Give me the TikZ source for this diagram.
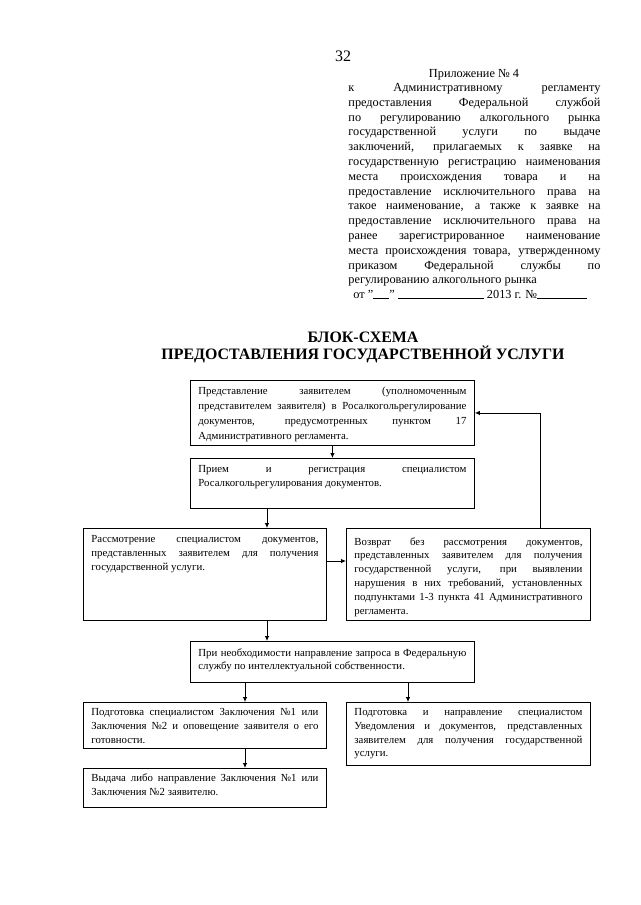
\documentclass[tikz,border=0pt]{standalone}
\usepackage{fontspec}
\setmainfont{Liberation Serif}
\usetikzlibrary{arrows.meta}
% строка, растянутая на всю ширину
\newcommand{\jl}[1]{#1\linebreak}

\begin{document}
\begin{tikzpicture}[
    x=1pt, y=-1pt,
    line width=0.9pt,
    blk/.style={draw=black, anchor=north west, inner sep=0pt},
    txt/.style={anchor=north west, inner xsep=8pt, inner ysep=7pt, align=justify,
      font=\fontsize{10.8}{13.8}\selectfont},
    arr/.style={-{Latex[length=5pt,width=4.5pt]}, line width=0.8pt}
  ]
  \useasboundingbox[fill=white] (0,0) rectangle (640,905);

  % номер страницы и приложение
  \node[anchor=base] (pnum) at (343,61) {\fontsize{16}{18}\selectfont 32};
  \node[anchor=base] (appx) at (474,77) {\fontsize{12.3}{15}\selectfont Приложение № 4};
  \node[anchor=north west, inner sep=0pt, text width=252, align=justify,
    font=\fontsize{12.3}{14.8}\selectfont] (hdr) at (348,83) {%
    \jl{к Административному регламенту}
    \jl{предоставления Федеральной службой}
    \jl{по регулированию алкогольного рынка}
    \jl{государственной услуги по выдаче}
    \jl{заключений, прилагаемых к заявке на}
    \jl{государственную регистрацию наименования}
    \jl{места происхождения товара и на}
    \jl{предоставление исключительного права на}
    \jl{такое наименование, а также к заявке на}
    \jl{предоставление исключительного права на}
    \jl{ранее зарегистрированное наименование}
    \jl{места происхождения товара, утвержденному}
    \jl{приказом Федеральной службы по}
    регулированию алкогольного рынка\par
    \hspace*{5pt}от "\rule{16pt}{0.5pt}" \rule{86pt}{0.5pt} 2013 г. №\rule{50pt}{0.5pt}\par};

  % заголовок
  \node[align=center, font=\fontsize{15.9}{17}\selectfont\bfseries] (ttl) at (363,347)
    {БЛОК-СХЕМА\\ПРЕДОСТАВЛЕНИЯ ГОСУДАРСТВЕННОЙ УСЛУГИ};

  % блоки
  \node[blk, minimum width=284, minimum height=65] (b1) at (190,380) {};
  \node[blk, minimum width=284, minimum height=50] (b2) at (190,458) {};
  \node[blk, minimum width=243, minimum height=92] (b3) at (83,528) {};
  \node[blk, minimum width=244, minimum height=92] (b4) at (346,528) {};
  \node[blk, minimum width=284, minimum height=41] (b5) at (190,641) {};
  \node[blk, minimum width=243, minimum height=46] (b6) at (83,702) {};
  \node[blk, minimum width=244, minimum height=63] (b7) at (346,702) {};
  \node[blk, minimum width=243, minimum height=39] (b8) at (83,768) {};

  % тексты блоков
  \node[txt, text width=268, font=\fontsize{10.8}{15}\selectfont] (t1) at (b1.north west) {%
    \jl{Представление заявителем (уполномоченным}
    \jl{представителем заявителя) в Росалкогольрегулирование}
    \jl{документов, предусмотренных пунктом 17}
    Административного регламента.\par};
  \node[txt, text width=268] (t2) at (b2.north west) {%
    \jl{Прием и регистрация специалистом}
    Росалкогольрегулирования документов.\par};
  \node[txt, text width=227] (t3) at (b3.north west) {%
    \jl{Рассмотрение специалистом документов,}
    \jl{представленных заявителем для получения}
    государственной услуги.\par};
  \node[txt, text width=228, inner ysep=9pt] (t4) at (b4.north west) {%
    \jl{Возврат без рассмотрения документов,}
    \jl{представленных заявителем для получения}
    \jl{государственной услуги, при выявлении}
    \jl{нарушения в них требований, установленных}
    \jl{подпунктами 1-3 пункта 41 Административного}
    регламента.\par};
  \node[txt, text width=268] (t5) at (b5.north west) {%
    \jl{При необходимости направление запроса в Федеральную}
    службу по интеллектуальной собственности.\par};
  \node[txt, text width=227, inner ysep=6pt] (t6) at (b6.north west) {%
    \jl{Подготовка специалистом Заключения №1 или}
    \jl{Заключения №2 и оповещение заявителя о его}
    готовности.\par};
  \node[txt, text width=228, inner ysep=6pt] (t7) at (b7.north west) {%
    \jl{Подготовка и направление специалистом}
    \jl{Уведомления и документов, представленных}
    \jl{заявителем для получения государственной}
    услуги.\par};
  \node[txt, text width=227, inner ysep=5.5pt] (t8) at (b8.north west) {%
    \jl{Выдача либо направление Заключения №1 или}
    Заключения №2 заявителю.\par};

  % линии связи
  \coordinate (xa) at (267,0);
  \coordinate (xb) at (245,0);
  \coordinate (xc) at (408,0);
  \coordinate (xr) at (540,0);
  \coordinate (ya) at (0,561);
  \draw[arr] (b1.south) -- (b2.north);
  \draw[arr] (b2.south -| xa) -- (b3.north -| xa);
  \draw[arr] (b3.east |- ya) -- (b4.west |- ya);
  \draw[arr] (b4.north -| xr) |- (b1.east);
  \draw[arr] (b3.south -| xa) -- (b5.north -| xa);
  \draw[arr] (b5.south -| xb) -- (b6.north -| xb);
  \draw[arr] (b5.south -| xc) -- (b7.north -| xc);
  \draw[arr] (b6.south -| xb) -- (b8.north -| xb);
\end{tikzpicture}
\end{document}
